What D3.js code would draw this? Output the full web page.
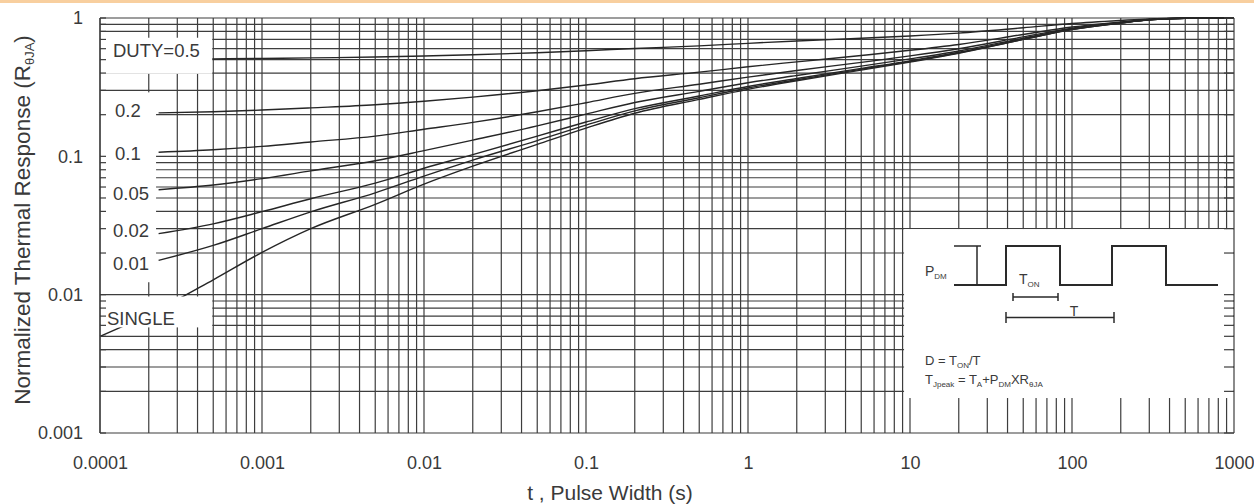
<!DOCTYPE html>
<head>
  <title>Transient Thermal Response</title>
  <meta charset="utf-8">
  <script src="https://cdn.jsdelivr.net/npm/d3@7/dist/d3.min.js"></script>
  <style>
    body { margin: 0; background: #fff; }
    text, tspan { font-family: "Liberation Sans", Arial, sans-serif; fill: #3a3a3a; }
  </style>
</head>

<body>
  <div id="chart"></div>
</body>

<script>
  var pulseWidth = [1e-4, 2.3e-4, 5e-4, 1e-3, 2e-3, 5e-3, 0.01, 0.02, 0.05, 0.1, 0.2, 0.5, 1, 2, 5, 10, 20, 50, 100, 200, 300, 500, 1000];

  // normalized thermal response for each duty cycle
  var duty05  = [0.502, 0.504, 0.506, 0.510, 0.515, 0.522, 0.531, 0.542, 0.561, 0.580, 0.602, 0.629, 0.656, 0.682, 0.714, 0.742, 0.778, 0.850, 0.912, 0.960, 0.985, 0.997, 1.0];
  var duty02  = [null, 0.206, 0.210, 0.216, 0.224, 0.236, 0.250, 0.268, 0.298, 0.328, 0.364, 0.406, 0.444, 0.482, 0.536, 0.584, 0.644, 0.760, 0.860, 0.936, 0.976, 0.996, 1.0];
  var duty01  = [null, 0.107, 0.1115, 0.118, 0.127, 0.140, 0.157, 0.176, 0.210, 0.244, 0.285, 0.332, 0.374, 0.417, 0.478, 0.532, 0.600, 0.730, 0.843, 0.928, 0.973, 0.996, 1.0];
  var duty005 = [null, 0.0574, 0.062, 0.069, 0.0785, 0.093, 0.110, 0.131, 0.166, 0.202, 0.245, 0.295, 0.340, 0.384, 0.449, 0.506, 0.577, 0.715, 0.834, 0.925, 0.972, 0.995, 1.0];
  var duty002 = [null, 0.0276, 0.0325, 0.0398, 0.0494, 0.064, 0.082, 0.103, 0.140, 0.177, 0.221, 0.273, 0.320, 0.365, 0.432, 0.490, 0.565, 0.705, 0.830, 0.922, 0.970, 0.995, 1.0];
  var duty001 = [null, 0.0177, 0.0227, 0.030, 0.0397, 0.0545, 0.072, 0.094, 0.130, 0.168, 0.213, 0.265, 0.312, 0.358, 0.426, 0.485, 0.560, 0.700, 0.827, 0.920, 0.970, 0.995, 1.0];
  var single  = [0.0050, 0.0078, 0.0128, 0.0202, 0.030, 0.045, 0.063, 0.085, 0.122, 0.160, 0.205, 0.258, 0.305, 0.352, 0.420, 0.480, 0.555, 0.700, 0.825, 0.920, 0.970, 0.995, 1.0];

  var curveLabels = ["DUTY=0.5", "0.2", "0.1", "0.05", "0.02", "0.01", "SINGLE"];

  var xTickValues = [1e-4, 1e-3, 0.01, 0.1, 1, 10, 100, 1000];
  var xTickLabels = ["0.0001", "0.001", "0.01", "0.1", "1", "10", "100", "1000"];
  var yTickValues = [0.001, 0.01, 0.1, 1];
  var yTickLabels = ["0.001", "0.01", "0.1", "1"];

  var W = 1254, H = 504;
  var plotL = 100, plotR = 1234, plotT = 18, plotB = 433;

  var svg = d3.select("#chart").append("svg")
    .attr("width", W)
    .attr("height", H);

  // thin orange strip along the top of the scan
  svg.append("rect").attr("x", 0).attr("y", 0).attr("width", W).attr("height", 3).attr("fill", "#f8cf9f");

  var x = d3.scaleLog().domain([1e-4, 1000]).range([plotL, plotR]);
  var y = d3.scaleLog().domain([0.001, 1]).range([plotB, plotT]);

  // log grid lines 1..9 per decade
  var xGrid = [];
  for (var d = -4; d < 3; d++)
    for (var m = 1; m < 10; m++) xGrid.push(m * Math.pow(10, d));
  xGrid.push(1000);
  var yGrid = [];
  for (var d = -3; d < 0; d++)
    for (var m = 1; m < 10; m++) yGrid.push(m * Math.pow(10, d));
  yGrid.push(1);

  var grid = svg.append("g").attr("stroke", "#3d3d3d").attr("stroke-width", 1.2);
  grid.selectAll(".vx").data(xGrid).enter().append("line")
    .attr("x1", function(d) { return x(d); }).attr("x2", function(d) { return x(d); })
    .attr("y1", plotT).attr("y2", plotB);
  grid.selectAll(".hy").data(yGrid).enter().append("line")
    .attr("x1", plotL).attr("x2", plotR)
    .attr("y1", function(d) { return y(d); }).attr("y2", function(d) { return y(d); });

  // curves
  var series = [duty05, duty02, duty01, duty005, duty002, duty001, single];
  var line = d3.line()
    .defined(function(d) { return d.v != null; })
    .x(function(d) { return x(d.t); })
    .y(function(d) { return y(d.v); })
    .curve(d3.curveMonotoneX);

  svg.append("g").selectAll("path").data(series).enter().append("path")
    .attr("fill", "none")
    .attr("stroke", "#262626")
    .attr("stroke-width", 1.4)
    .attr("d", function(vals) {
      return line(vals.map(function(v, i) { return {t: pulseWidth[i], v: v}; }));
    });

  // white label patches covering the grid
  var boxes = [
    {x0: 1e-4, x1: 5e-4,   y0: 0.72,   y1: 0.395},   // DUTY=0.5
    {x0: 1e-4, x1: 2.25e-4, y0: 0.29,  y1: 0.0123},  // 0.2 .. 0.01
    {x0: 1e-4, x1: 5e-4,   y0: 0.0097, y1: 0.0058},  // SINGLE
    {x0: 9.06, x1: 1000,   y0: 0.0298, y1: 0.00179}  // inset
  ];
  svg.append("g").selectAll("rect").data(boxes).enter().append("rect")
    .attr("x", function(b) { return x(b.x0) + 1; })
    .attr("y", function(b) { return y(b.y0); })
    .attr("width", function(b) { return x(b.x1) - x(b.x0) - 2; })
    .attr("height", function(b) { return y(b.y1) - y(b.y0); })
    .attr("fill", "#fff");

  // inward ticks on the left and right frame
  var ticks = svg.append("g").attr("stroke", "#3d3d3d").attr("stroke-width", 1.2);
  ticks.selectAll(".lt").data(yGrid).enter().append("line")
    .attr("x1", plotL).attr("x2", plotL + 6)
    .attr("y1", function(d) { return y(d); }).attr("y2", function(d) { return y(d); });
  ticks.selectAll(".rt").data(yGrid).enter().append("line")
    .attr("x1", plotR - 10).attr("x2", plotR)
    .attr("y1", function(d) { return y(d); }).attr("y2", function(d) { return y(d); });
  ticks.append("line").attr("x1", plotL).attr("x2", plotL).attr("y1", plotT).attr("y2", plotB);

  // curve labels
  var labelPos = [[113, 57], [115, 117], [115, 160], [113, 200], [113, 237], [113, 270], [107, 325]];
  svg.append("g").selectAll("text").data(curveLabels).enter().append("text")
    .attr("x", function(d, i) { return labelPos[i][0]; })
    .attr("y", function(d, i) { return labelPos[i][1]; })
    .attr("font-size", 18.5)
    .text(function(d) { return d; });

  // axes (labels only)
  var xAxis = svg.append("g")
    .attr("transform", "translate(0," + plotB + ")")
    .call(d3.axisBottom(x).tickValues(xTickValues).tickSize(0).tickPadding(23)
      .tickFormat(function(d, i) { return xTickLabels[i]; }));
  var yAxis = svg.append("g")
    .attr("transform", "translate(" + plotL + ",0)")
    .call(d3.axisLeft(y).tickValues(yTickValues).tickSize(0).tickPadding(17)
      .tickFormat(function(d, i) { return yTickLabels[i]; }));
  [xAxis, yAxis].forEach(function(a) {
    a.select(".domain").remove();
    a.selectAll("text").attr("font-size", 18).attr("font-family", "Liberation Sans, Arial, sans-serif").attr("fill", "#3a3a3a");
  });

  svg.append("text")
    .attr("x", 610).attr("y", 500)
    .attr("text-anchor", "middle")
    .attr("font-size", 21)
    .text("t , Pulse Width (s)");

  var yTitle = svg.append("text")
    .attr("transform", "translate(30,220) rotate(-90)")
    .attr("text-anchor", "middle")
    .attr("font-size", 22.5);
  yTitle.append("tspan").text("Normalized Thermal Response (R");
  yTitle.append("tspan").attr("font-size", 13).attr("dy", 4).text("θJA");
  yTitle.append("tspan").attr("dy", -4).text(")");

  // inset: pulse train and formulas
  var ox = 903, oy = 229;
  var inset = svg.append("g").attr("transform", "translate(" + ox + "," + oy + ")");
  var lo = 56, hi = 17;
  var wave = [[51, lo], [103, lo], [103, hi], [157, hi], [157, lo], [209, lo], [209, hi], [263, hi], [263, lo], [315, lo]];
  inset.append("path")
    .attr("d", d3.line()(wave))
    .attr("fill", "none").attr("stroke", "#2a2a2a").attr("stroke-width", 2);

  var dims = inset.append("g").attr("stroke", "#2a2a2a").attr("stroke-width", 1.5).attr("fill", "none");
  dims.append("path").attr("d", "M51," + hi + "H78M74," + hi + "V" + lo);
  dims.append("path").attr("d", "M110,64V72M110,68H155M155,64V72");
  dims.append("path").attr("d", "M103,83V94M103,88.5H211M211,83V94");

  function sub(t, parts, size, subSize) {
    parts.forEach(function(p) {
      if (p[1]) t.append("tspan").attr("font-size", subSize).attr("dy", 3).text(p[0]);
      else t.append("tspan").attr("font-size", size).attr("dy", p[2] ? -3 : 0).text(p[0]);
    });
  }
  sub(inset.append("text").attr("x", 22).attr("y", 47), [["P"], ["DM", 1]], 14, 8);
  sub(inset.append("text").attr("x", 116).attr("y", 55), [["T"], ["ON", 1]], 14, 8);
  inset.append("text").attr("x", 171).attr("y", 87).attr("text-anchor", "middle").attr("font-size", 14).text("T");
  sub(inset.append("text").attr("x", 22).attr("y", 136), [["D = T"], ["ON", 1], ["/T", 0, 1]], 13, 8);
  sub(inset.append("text").attr("x", 22).attr("y", 155),
    [["T"], ["Jpeak", 1], [" = T", 0, 1], ["A", 1], ["+P", 0, 1], ["DM", 1], ["XR", 0, 1], ["θJA", 1]], 13, 8);
</script>
